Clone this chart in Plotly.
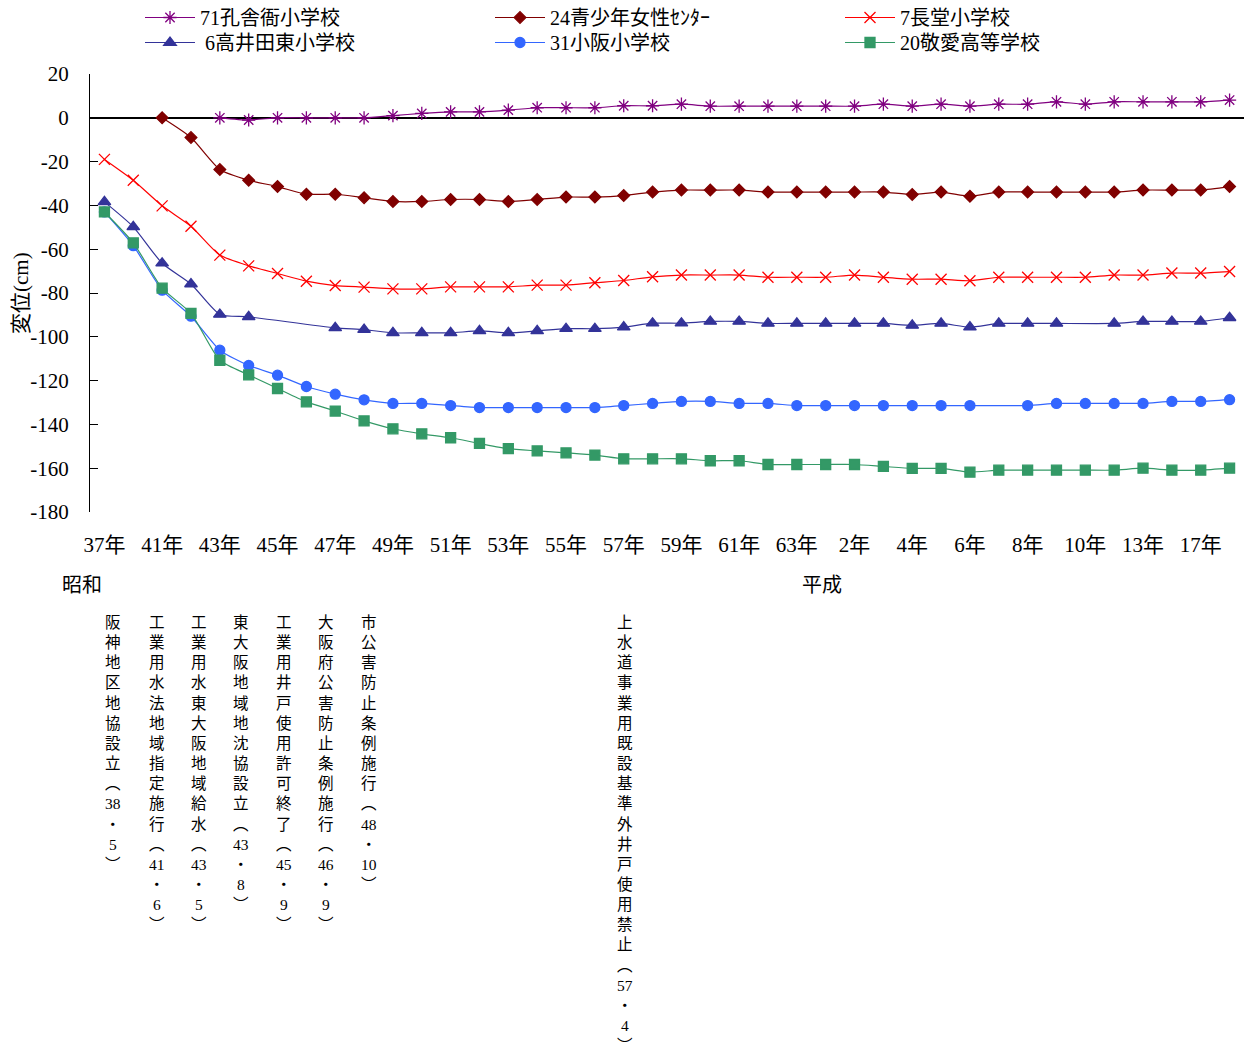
import plotly.graph_objects as go

# ---------------- data ----------------
categories = ["37年", "39年", "41年", "42年", "43年", "44年", "45年", "46年", "47年", "48年",
              "49年", "50年", "51年", "52年", "53年", "54年", "55年", "56年", "57年", "58年",
              "59年", "60年", "61年", "62年", "63年", "元年", "2年", "3年", "4年", "5年",
              "6年", "7年", "8年", "9年", "10年", "12年", "13年", "15年", "17年", "18年"]
tick_labels = ["37年", "41年", "43年", "45年", "47年", "49年", "51年", "53年", "55年", "57年",
               "59年", "61年", "63年", "2年", "4年", "6年", "8年", "10年", "13年", "17年"]

s71 = [None, None, None, None, 0, -1, 0, 0, 0, 0,
       1, 2, 2.7, 2.7, 3.5, 4.6, 4.6, 4.6, 5.5, 5.5,
       6.2, 5.3, 5.3, 5.3, 5.3, 5.3, 5.3, 6.2, 5.3, 6.2,
       5.3, 6.2, 6.2, 7.3, 6.2, 7.3, 7.3, 7.3, 7.3, 8.1]
s24 = [None, None, 0, -9.0, -23.6, -28.5, -31.4, -34.9, -34.9, -36.5,
       -38.2, -38.2, -37.3, -37.3, -38.2, -37.3, -36.2, -36.2, -35.5, -33.9,
       -33.0, -33.0, -33.0, -33.9, -33.9, -33.9, -33.9, -33.9, -35.0, -33.9,
       -35.8, -33.9, -33.9, -33.9, -33.9, -33.9, -33.0, -33.0, -33.0, -31.4]
s7 = [-19.0, -28.5, -40.2, -49.5, -62.7, -67.6, -71.1, -74.6, -76.6, -77.3,
      -78.1, -78.1, -77.2, -77.2, -77.2, -76.4, -76.4, -75.3, -74.3, -72.6,
      -71.8, -71.8, -71.8, -72.8, -72.8, -72.8, -71.8, -72.8, -73.7, -73.7,
      -74.4, -72.8, -72.8, -72.8, -72.8, -71.8, -71.8, -70.9, -70.9, -70.2]
s6 = [-38.4, -49.8, -66.4, -75.9, -89.8, -90.9, None, None, -95.9, -96.7,
      -98.2, -98.2, -98.2, -97.3, -98.2, -97.3, -96.3, -96.3, -95.6, -93.8,
      -93.8, -93.0, -93.0, -93.9, -93.9, -93.9, -93.9, -93.9, -94.8, -93.9,
      -95.6, -93.9, -93.9, -93.9, None, -93.9, -93.0, -93.0, -93.0, -91.3]
s31 = [-43.0, -58.4, -78.7, -90.6, -106.1, -113.1, -117.5, -122.7, -126.2, -128.8,
       -130.4, -130.4, -131.4, -132.3, -132.3, -132.3, -132.3, -132.3, -131.4, -130.4,
       -129.5, -129.5, -130.4, -130.4, -131.4, -131.4, -131.4, -131.4, -131.4, -131.4,
       -131.4, None, -131.4, -130.4, -130.4, -130.4, -130.4, -129.5, -129.5, -128.7]
s20 = [-43.0, -57.1, -77.8, -89.3, -110.7, -117.4, -123.6, -129.7, -133.9, -138.4,
       -142.0, -144.3, -146.1, -148.7, -151.1, -152.1, -153.0, -154.0, -155.7, -155.7,
       -155.7, -156.6, -156.6, -158.3, -158.3, -158.3, -158.3, -159.2, -160.1, -160.1,
       -161.8, -160.9, -160.9, -160.9, -160.9, -160.9, -160.0, -160.9, -160.9, -160.0]

series_names = ["71孔舎衙小学校", "24青少年女性ｾﾝﾀｰ", "7長堂小学校",
                " 6高井田東小学校", "31小阪小学校", "20敬愛高等学校"]
y_ticks = [20, 0, -20, -40, -60, -80, -100, -120, -140, -160, -180]
y_tick_text = ["20", "0", "-20", "-40", "-60", "-80", "-100", "-120", "-140", "-160", "-180"]
y_title = "変位(cm)"

events = ["阪神地区地協設立", "工業用水法地域指定施行", "工業用水東大阪地域給水",
          "東大阪地域地沈協設立", "工業用井戸使用許可終了", "大阪府公害防止条例施行",
          "市公害防止条例施行", "上水道事業用既設基準外井戸使用禁止"]
event_dates = [("38", "5"), ("41", "6"), ("43", "5"), ("43", "8"),
               ("45", "9"), ("46", "9"), ("48", "10"), ("57", "4")]
event_px = [113, 157, 199, 241, 284, 326, 369, 625]

# ---------------- styles ----------------
FONT = "Liberation Serif, 'Noto Sans CJK JP', serif"
JFONT = "'Noto Sans CJK JP', sans-serif"
W, H = 1250, 1054
L, R, T, B = 90, 1244, 74, 512

styles = [
    dict(color="#800080", symbol="asterisk-open", size=11, lw=1.2),
    dict(color="#800000", symbol="diamond", size=9, lw=1.2),
    dict(color="#FF0000", symbol="x-thin-open", size=11, lw=1.2),
    dict(color="#333399", symbol="triangle-up", size=11, lw=1.2),
    dict(color="#3366FF", symbol="circle", size=10, lw=1.2),
    dict(color="#339966", symbol="square", size=10, lw=1.2),
]
legend_ids = ["legend", "legend", "legend", "legend2", "legend2", "legend2"]

fig = go.Figure()
for name, vals, st, lg in zip(series_names, [s71, s24, s7, s6, s31, s20], styles, legend_ids):
    fig.add_trace(go.Scatter(
        x=categories, y=vals, name=name, mode="lines+markers",
        connectgaps=True, legend=lg,
        line=dict(color=st["color"], width=st["lw"], shape="spline", smoothing=0.6),
        marker=dict(symbol=st["symbol"], size=st["size"], color=st["color"],
                    line=dict(color=st["color"], width=1.3)),
    ))


def px_x(px):
    return (px - L) / (R - L)


def px_y(py):
    return (B - py) / (B - T)


annotations = []
for lab, cx in (("昭和", 82), ("平成", 822)):
    annotations.append(dict(text=lab, x=px_x(cx), y=px_y(583), xref="paper", yref="paper",
                            showarrow=False, xanchor="center", yanchor="middle",
                            font=dict(family=JFONT, size=20, color="black")))

# y-axis title
annotations.append(dict(text=y_title, x=px_x(21), y=px_y(293), xref="paper", yref="paper",
                        showarrow=False, xanchor="center", yanchor="middle", textangle=-90,
                        font=dict(family=FONT, size=21, color="black")))

# vertical texts: one glyph group per line
for txt, (a, b), cx in zip(events, event_dates, event_px):
    tokens = list(txt) + ["︵", a, "・", b, "︶"]
    annotations.append(dict(text="<br>".join(tokens), x=px_x(cx), y=px_y(612),
                            xref="paper", yref="paper", showarrow=False,
                            xanchor="center", yanchor="top", align="center",
                            font=dict(family=FONT, size=15.5, color="black")))

legend_common = dict(orientation="h", xanchor="left", yanchor="top",
                     entrywidth=285, itemwidth=50, tracegroupgap=0,
                     font=dict(family=FONT, size=20, color="black"),
                     bgcolor="rgba(0,0,0,0)")

fig.update_layout(
    width=W, height=H,
    margin=dict(l=L, r=W - R, t=T, b=H - B, pad=0, autoexpand=False),
    paper_bgcolor="white", plot_bgcolor="white",
    font=dict(family=FONT, size=20, color="black"),
    showlegend=True,
    legend=dict(x=px_x(140), y=px_y(-2), **legend_common),
    legend2=dict(x=px_x(140), y=px_y(23), **legend_common),
    xaxis=dict(type="category", range=[-0.5, len(categories) - 0.5],
               tickmode="array", tickvals=tick_labels, ticktext=tick_labels,
               showline=False, showgrid=False, zeroline=False, ticks="",
               ticklabelstandoff=18, tickangle=0,
               tickfont=dict(family=FONT, size=21)),
    yaxis=dict(range=[-180, 20], tickmode="array", tickvals=y_ticks, ticktext=y_tick_text,
               showline=True, linecolor="black", linewidth=1,
               ticks="inside", ticklen=8, tickcolor="black", tickwidth=1,
               showgrid=False, zeroline=True, zerolinecolor="black", zerolinewidth=1.5,
               ticklabelstandoff=16,
               tickfont=dict(family=FONT, size=21)),
    annotations=annotations,
)

fig.write_html("out.html", config={"displayModeBar": False},
               post_script="document.body.style.margin='0';")
